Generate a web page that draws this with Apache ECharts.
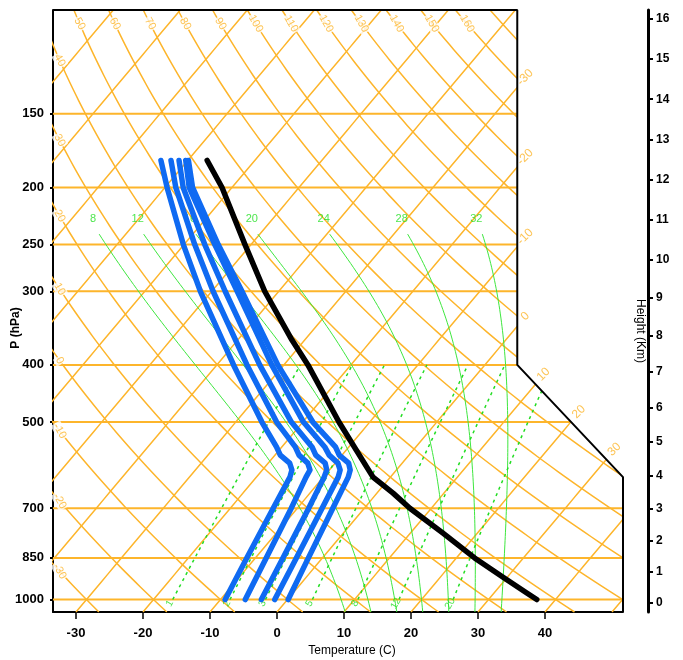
<!DOCTYPE html>
<html>
<head>
<meta charset="utf-8">
<script src="https://cdn.jsdelivr.net/npm/echarts@6/dist/echarts.min.js"></script>
<style>
  html, body { margin: 0; padding: 0; background: #fff; }
  #chart { width: 683px; height: 660px; }
</style>
</head>
<body>
<div id="chart"></div>
<script>
// background lines of the diagram
const isobars = [1000, 850, 700, 500, 400, 300, 250, 200, 150];
const tempTicks = [-30, -20, -10, 0, 10, 20, 30, 40];
const heightKm = [0, 1, 2, 3, 4, 5, 6, 7, 8, 9, 10, 11, 12, 13, 14, 15, 16];
const heightP = [1013.25, 898.7, 795.0, 701.1, 616.6, 540.5, 472.2, 411.1, 356.5, 308.0, 265.0, 227.0, 194.0, 165.8, 141.7, 121.1, 103.5];
const isotherms = [-100, -90, -80, -70, -60, -50, -40, -30, -20, -10, 0, 10, 20, 30, 40, 50];
const isothermLabels = [-30, -20, -10, 0, 10, 20, 30];
const dryAdiabats = [-30, -20, -10, 0, 10, 20, 30, 40, 50, 60, 70, 80, 90, 100, 110, 120, 130, 140, 150, 160, 170];
const dryTopLabels = [50, 60, 70, 80, 90, 100, 110, 120, 130, 140, 150, 160];
const dryLeftLabels = [-30, -20, -10, 0, 10, 20, 30, 40];
const moistAdiabats = [8, 12, 16, 20, 24, 28, 32];
const mixingRatios = [1, 2, 3, 5, 8, 12, 20];

// sounding (black) : pressure hPa / temperature C
const envP = [1000, 975, 916, 850, 771, 700, 660, 620, 595, 500, 400, 363, 300, 250, 200, 180];
const envT = [37.2, 34.9, 29.3, 22.7, 14.8, 6.8, 2.4, -2.6, -4.9, -14.6, -26.4, -31.9, -42.1, -50.9, -61.5, -67.1];

// blue profiles
const profP = [1000, 850, 700, 620, 603, 587, 569, 551, 500, 400, 300, 250, 200, 180];
const prof1 = [-9.3, -11.3, -13.6, -15.0, -15.6, -16.8, -19.2, -20.8, -26.1, -37.5, -51.7, -60.1, -69.7, -74.0];
const prof2 = [-6.3, -8.4, -10.9, -12.6, -12.9, -14.1, -16.4, -18.0, -23.9, -35.5, -49.8, -58.4, -68.4, -72.5];
const prof3 = [-3.9, -5.9, -8.3, -9.9, -10.4, -11.5, -13.9, -15.5, -21.7, -33.6, -48.0, -56.9, -67.3, -71.3];
const prof4 = [-1.9, -3.9, -6.3, -7.8, -8.4, -9.6, -11.9, -13.6, -19.9, -31.8, -46.2, -55.4, -66.4, -70.3];
const prof5 = [0.1, -2.1, -4.7, -6.3, -6.9, -8.0, -10.4, -12.0, -18.5, -30.9, -45.5, -54.9, -65.9, -69.9];

const ORANGE = '#FDB52B';
const GREEN = '#3ee63e';
const FONT = 'Liberation Sans, Helvetica, Arial, sans-serif';

// skew-T geometry
const SKEW = 32.14;
const P_TOP = 100, P_BOT = 1050;
const X_MIN = -33.43, X_MAX = 51.64, X_NOTCH = 35.86;
const P_NOTCH = 400, P_CORNER = 620;
const lp = p => Math.log(p);
const sx = (t, p) => t + SKEW * Math.log(P_BOT / p);

function rightEdge(y) {
  if (y <= lp(P_NOTCH)) return X_NOTCH;
  if (y >= lp(P_CORNER)) return X_MAX;
  return X_NOTCH + (X_MAX - X_NOTCH) * (y - lp(P_NOTCH)) / (lp(P_CORNER) - lp(P_NOTCH));
}

// cut a polyline at the right border of the diagram
function clipRight(pts) {
  const pieces = [];
  let cur = [];
  const inside = q => q[0] <= rightEdge(q[1]) + 1e-9;
  for (let i = 0; i < pts.length; i++) {
    const q = pts[i];
    if (i > 0) {
      const a = pts[i - 1], ia = inside(a);
      if (ia !== inside(q)) {
        let lo = 0, hi = 1;
        for (let k = 0; k < 40; k++) {
          const m = (lo + hi) / 2;
          const r = [a[0] + (q[0] - a[0]) * m, a[1] + (q[1] - a[1]) * m];
          if (inside(r) === ia) lo = m; else hi = m;
        }
        const c = [a[0] + (q[0] - a[0]) * lo, a[1] + (q[1] - a[1]) * lo];
        if (ia) { cur.push(c); pieces.push(cur); cur = []; }
        else cur = [c];
      }
    }
    if (inside(q)) cur.push(q);
  }
  if (cur.length > 1) pieces.push(cur);
  return pieces.filter(c => c.length > 1);
}

function curve(fT, p1, p2, n) {
  const pts = [];
  for (let i = 0; i <= n; i++) {
    const p = Math.exp(lp(p1) + (lp(p2) - lp(p1)) * i / n);
    pts.push([sx(fT(p), p), lp(p)]);
  }
  return pts;
}

const dryT = th => p => (th + 273.15) * Math.pow(p / 1000, 0.286) - 273.15;

function dTdlnp(T, p) {
  const tc = T - 273.15;
  const es = 6.112 * Math.exp(17.67 * tc / (tc + 243.5));
  const rs = 0.622 * es / (p - es);
  const Lv = 2.501e6;
  return (287.04 * T + Lv * rs) / (1005.7 + Lv * Lv * rs * 0.622 / (287.04 * T * T));
}
const moistT = thw => p => {
  let T = thw + 273.15, y = lp(1000);
  const yt = lp(p), n = Math.max(1, Math.ceil(Math.abs(yt - y) / 0.01)), h = (yt - y) / n;
  for (let i = 0; i < n; i++) {
    const f = (TT, yy) => dTdlnp(TT, Math.exp(yy));
    const k1 = f(T, y), k2 = f(T + h * k1 / 2, y + h / 2);
    const k3 = f(T + h * k2 / 2, y + h / 2), k4 = f(T + h * k3, y + h);
    T += h * (k1 + 2 * k2 + 2 * k3 + k4) / 6;
    y += h;
  }
  return T - 273.15;
};
const mixT = w => p => {
  const e = w * p / (622 + w);
  const l = Math.log(e / 6.112);
  return 243.5 * l / (17.67 - l);
};

function solve(g, a, b) {
  let lo = a, hi = b;
  const sLo = Math.sign(g(lo));
  for (let k = 0; k < 60; k++) {
    const m = (lo + hi) / 2;
    if (Math.sign(g(m)) === sLo) lo = m; else hi = m;
  }
  return (lo + hi) / 2;
}

const flat = arr => arr.reduce((acc, a) => acc.concat(a), []);

const isobarLines = flat(isobars.map(p => clipRight([[X_MIN, lp(p)], [X_MAX, lp(p)]])));
const isothermLines = flat(isotherms.map(t => clipRight(curve(() => t, P_BOT, P_TOP, 80))));
const dryLines = flat(dryAdiabats.map(th => clipRight(curve(dryT(th), P_BOT, P_TOP, 120))));
const moistLines = flat(moistAdiabats.map(th => clipRight(curve(moistT(th), P_BOT, 240, 90))));
const mixLines = flat(mixingRatios.map(w => clipRight(curve(mixT(w), 1000, 400, 40))));

function linesSeries(pieces, style, z) {
  return {
    type: 'lines', coordinateSystem: 'cartesian2d', polyline: true, silent: true, clip: true, z,
    lineStyle: Object.assign({ opacity: 1 }, style),
    data: pieces.map(c => ({ coords: c }))
  };
}

function labelSeries(items, style, z) {
  return {
    type: 'scatter', symbolSize: 1, silent: true, clip: false, z,
    itemStyle: { color: 'rgba(0,0,0,0)' },
    data: items.map(it => ({ value: it.pos, label: { formatter: String(it.text) } })),
    label: Object.assign({ show: true, position: 'inside', fontFamily: FONT }, style)
  };
}

// label positions
const isoLab = isothermLabels.map(t => {
  const y = solve(yy => sx(t, Math.exp(yy)) - rightEdge(yy), lp(P_TOP), lp(P_BOT));
  return { pos: [rightEdge(y), y], text: t };
});
const dryTopLab = dryTopLabels.map(th => ({ pos: [sx(dryT(th)(105.5), 105.5), lp(105.5)], text: th }));
const dryLeftLab = dryLeftLabels.map(th => {
  const y = solve(yy => sx(dryT(th)(Math.exp(yy)), Math.exp(yy)) - (X_MIN + 1.0), lp(P_TOP), lp(P_BOT));
  return { pos: [X_MIN + 1.0, y], text: th };
});
const moistLab = moistAdiabats.map(th => ({ pos: [sx(moistT(th)(240), 240), lp(240)], text: th }));
const mixLab = mixingRatios.map(w => ({ pos: [sx(mixT(w)(1000), 1000), lp(1000)], text: w }));

function profile(ps, ts) {
  return ps.map((p, i) => [sx(ts[i], p), lp(p)]);
}
function profileSeries(data, color, z) {
  return {
    type: 'line', data, showSymbol: false, symbol: 'none', silent: true, z,
    lineStyle: { color, width: 5.5, cap: 'round', join: 'round' }
  };
}

const BLUE = '#0f6af2';
const frame = [[X_MIN, lp(P_TOP)], [X_NOTCH, lp(P_TOP)], [X_NOTCH, lp(P_NOTCH)], [X_MAX, lp(P_CORNER)], [X_MAX, lp(P_BOT)]];

const chart = echarts.init(document.getElementById('chart'));
chart.setOption({
  animation: false,
  backgroundColor: '#fff',
  grid: { left: 53, right: 60, top: 10, bottom: 48, outerBoundsMode: 'none' },
  graphic: [
    {
      type: 'text', x: 16, y: 328, rotation: Math.PI / 2,
      style: { text: 'P (hPa)', font: 'bold 12px ' + FONT, fill: '#000', align: 'center', verticalAlign: 'middle' }
    },
    {
      type: 'text', x: 640, y: 331, rotation: -Math.PI / 2,
      style: { text: 'Height (Km)', font: '12px ' + FONT, fill: '#000', align: 'center', verticalAlign: 'middle' }
    }
  ],
  xAxis: {
    type: 'value', min: X_MIN, max: X_MAX,
    axisLine: { show: true, onZero: false, lineStyle: { color: '#000', width: 2 } },
    axisTick: { show: true, customValues: tempTicks, length: 7, lineStyle: { color: '#000', width: 1.5 } },
    axisLabel: { customValues: tempTicks, margin: 15, fontSize: 13, fontWeight: 'bold', color: '#000', fontFamily: FONT },
    splitLine: { show: false },
    name: 'Temperature (C)', nameLocation: 'middle', nameGap: 33,
    nameTextStyle: { fontSize: 12, color: '#000', fontFamily: FONT, padding: [0, 0, 0, 28] }
  },
  yAxis: [
    {
      type: 'value', inverse: true, min: lp(P_TOP), max: lp(P_BOT),
      axisLine: { show: true, onZero: false, lineStyle: { color: '#000', width: 2 } },
      axisTick: { show: true, customValues: isobars.map(lp), length: 3, lineStyle: { color: '#000', width: 2 } },
      axisLabel: {
        customValues: isobars.map(lp), margin: 9, fontSize: 13, fontWeight: 'bold', color: '#000', fontFamily: FONT,
        formatter: v => String(Math.round(Math.exp(v)))
      },
      splitLine: { show: false }
    },
    {
      type: 'value', inverse: true, min: lp(P_TOP), max: lp(P_BOT), position: 'right', offset: 25,
      axisLine: { show: true, onZero: false, lineStyle: { color: '#000', width: 3 } },
      axisTick: { show: true, customValues: heightP.map(lp), length: 5, lineStyle: { color: '#000', width: 2 } },
      axisLabel: {
        customValues: heightP.map(lp), margin: 8, fontSize: 12, fontWeight: 'bold', color: '#000', fontFamily: FONT,
        formatter: v => {
          let best = 0;
          heightP.forEach((p, i) => { if (Math.abs(lp(p) - v) < Math.abs(lp(heightP[best]) - v)) best = i; });
          return String(heightKm[best]);
        }
      },
      splitLine: { show: false }
    }
  ],
  series: [
    linesSeries(isobarLines, { color: ORANGE, width: 2 }, 1),
    linesSeries(isothermLines, { color: ORANGE, width: 1.5 }, 1),
    linesSeries(dryLines, { color: ORANGE, width: 1.5 }, 1),
    labelSeries(dryTopLab, { color: ORANGE, fontSize: 11, rotate: -60, backgroundColor: '#fff', padding: [0, 1] }, 2),
    labelSeries(dryLeftLab, { color: ORANGE, fontSize: 11, rotate: -60, backgroundColor: '#fff', padding: [0, 1] }, 2),
    labelSeries(isoLab, { color: ORANGE, fontSize: 12, rotate: 45, offset: [12.7, -1.4] }, 2),
    linesSeries(moistLines, { color: GREEN, width: 1 }, 3),
    linesSeries(mixLines, { color: '#22dd22', width: 1.5, type: [3, 4] }, 3),
    labelSeries(moistLab, { color: '#22e022', fontSize: 11, offset: [-6, -15] }, 3),
    labelSeries(mixLab, { color: '#22e022', fontSize: 10, rotate: 60, offset: [-5, -0.6] }, 3),
    profileSeries(profile(profP, prof1), BLUE, 5),
    profileSeries(profile(profP, prof2), BLUE, 5),
    profileSeries(profile(profP, prof3), BLUE, 5),
    profileSeries(profile(profP, prof4), BLUE, 5),
    profileSeries(profile(profP, prof5), BLUE, 5),
    profileSeries(profile(envP, envT), '#000', 6),
    {
      type: 'line', data: frame, showSymbol: false, symbol: 'none', silent: true, clip: false, z: 8,
      lineStyle: { color: '#000', width: 2 }
    }
  ]
});
</script>
</body>
</html>
